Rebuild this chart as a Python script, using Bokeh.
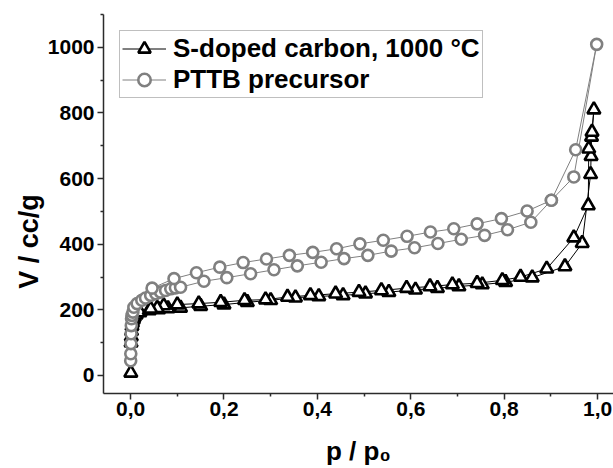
from bokeh.plotting import figure
from bokeh.models import Legend, LegendItem, CustomJSTickFormatter, FixedTicker, Range1d
from bokeh.embed import file_html
from bokeh.resources import INLINE

# S-doped carbon, 1000 °C  (adsorption / desorption branches)
s_ads_p = [0.0005, 0.001, 0.0015, 0.002, 0.003, 0.004, 0.006, 0.008, 0.012, 0.02, 0.04, 0.06,
           0.08, 0.107, 0.15, 0.20, 0.25, 0.30, 0.353, 0.403, 0.455, 0.503, 0.553, 0.610, 0.657,
           0.703, 0.753, 0.803, 0.860, 0.930, 0.967, 0.985, 0.986, 0.987, 0.992]
s_ads_v = [8, 100, 118, 135, 150, 160, 170, 178, 185, 192, 198, 201,
           204, 206, 211, 216, 223, 229, 237, 241, 244, 249, 254, 261, 266,
           271, 277, 284, 298, 332, 403, 613, 668, 727, 810]
s_des_p = [0.988, 0.981, 0.980, 0.949, 0.891, 0.835, 0.796, 0.742, 0.689, 0.641, 0.591, 0.537,
           0.489, 0.439, 0.385, 0.336, 0.289, 0.244, 0.193, 0.146, 0.100, 0.071, 0.057, 0.043]
s_des_v = [742, 691, 518, 420, 325, 300, 290, 281, 277, 271, 266, 259,
           254, 249, 244, 239, 231, 229, 223, 219, 216, 213, 205, 203]

# PTTB precursor
t_ads_p = [0.0002, 0.0004, 0.0007, 0.001, 0.0015, 0.002, 0.003, 0.005, 0.007, 0.014, 0.024, 0.032,
           0.043, 0.054, 0.064, 0.075, 0.086, 0.096, 0.107, 0.157, 0.206, 0.257, 0.307, 0.357,
           0.408, 0.457, 0.508, 0.558, 0.608, 0.658, 0.708, 0.758, 0.807, 0.857, 0.901, 0.949, 0.998]
t_ads_v = [45, 66, 97, 127, 152, 173, 183, 193, 208, 219, 229, 236,
           244, 249, 254, 259, 264, 267, 269, 287, 298, 310, 322, 334,
           345, 356, 366, 379, 389, 402, 415, 427, 444, 467, 534, 605, 1009]
t_des_p = [0.953, 0.901, 0.849, 0.794, 0.742, 0.692, 0.642, 0.592, 0.541, 0.491, 0.441, 0.390,
           0.340, 0.291, 0.241, 0.191, 0.141, 0.093, 0.046]
t_des_v = [688, 534, 501, 478, 462, 447, 437, 424, 412, 401, 386, 375,
           366, 355, 344, 330, 313, 295, 266]

x_ticks = [0.0, 0.2, 0.4, 0.6, 0.8, 1.0]
x_minor = [0.1, 0.3, 0.5, 0.7, 0.9]
y_ticks = [0, 200, 400, 600, 800, 1000]
y_minor = [100, 300, 500, 700, 900, 1100]

FONT = "Liberation Sans"
AX = "#2b2b2b"

p = figure(width=613, height=468, output_backend="svg", toolbar_location=None,
           x_range=Range1d(-0.058, 1.034), y_range=Range1d(-55, 1100),
           min_border_left=103, min_border_right=0, min_border_top=14, min_border_bottom=75)
p.outline_line_color = None
p.grid.visible = False
p.background_fill_color = "white"

s_line = p.line(s_ads_p + s_des_p, s_ads_v + s_des_v, line_color="black", line_width=1)
t_line = p.line(t_ads_p + t_des_p, t_ads_v + t_des_v, line_color="#808080", line_width=1)
s_pts = p.scatter(s_ads_p + s_des_p, s_ads_v + s_des_v, marker="triangle", size=13,
                  fill_color="white", line_color="black", line_width=2.6)
t_pts = p.scatter(t_ads_p + t_des_p, t_ads_v + t_des_v, marker="circle", size=11,
                  fill_color="white", line_color="#808080", line_width=2.6)

for ax in (p.xaxis[0], p.yaxis[0]):
    ax.axis_line_color = AX
    ax.axis_line_width = 1.5
    ax.major_tick_line_color = AX
    ax.major_tick_line_width = 1.5
    ax.minor_tick_line_color = AX
    ax.minor_tick_line_width = 1.5
    ax.major_tick_in = 0
    ax.major_tick_out = 6
    ax.minor_tick_in = 0
    ax.minor_tick_out = 3
    ax.major_label_text_font = FONT
    ax.major_label_text_font_style = "bold"
    ax.major_label_text_font_size = "21px"
    ax.major_label_text_color = "black"
    ax.axis_label_text_font = FONT
    ax.axis_label_text_font_style = "bold"
    ax.axis_label_text_color = "black"

p.xaxis.ticker = FixedTicker(ticks=x_ticks, minor_ticks=x_minor)
p.yaxis.ticker = FixedTicker(ticks=y_ticks, minor_ticks=y_minor)
p.xaxis.formatter = CustomJSTickFormatter(code="return tick.toFixed(1).replace('.', ',');")
p.xaxis.major_label_standoff = 2
p.yaxis.major_label_standoff = 3
p.xaxis.major_label_text_line_height = 1.0
p.xaxis.axis_label = "p / p\u2080"
p.yaxis.axis_label = "V / cc/g" + "\u00a0" * 10
p.xaxis.axis_label_text_font_size = "26px"
p.yaxis.axis_label_text_font_size = "27px"
p.xaxis.axis_label_text_line_height = 1.0
p.xaxis.axis_label_standoff = 17
p.yaxis.axis_label_standoff = 1

legend = Legend(items=[LegendItem(label="S-doped carbon, 1000 °C", renderers=[s_line, s_pts]),
                       LegendItem(label="PTTB precursor", renderers=[t_line, t_pts])],
                location="top_left")
legend.margin = 16
legend.padding = 2
legend.spacing = 0
legend.glyph_width = 44
legend.glyph_height = 31
legend.label_height = 31
legend.label_standoff = 7
legend.label_text_font = FONT
legend.label_text_font_style = "bold"
legend.label_text_font_size = "26px"
legend.label_text_color = "black"
legend.border_line_color = "#808080"
legend.border_line_width = 1
legend.background_fill_color = "white"
legend.background_fill_alpha = 1
p.add_layout(legend)

open("out.html", "w").write(file_html(p, INLINE))
